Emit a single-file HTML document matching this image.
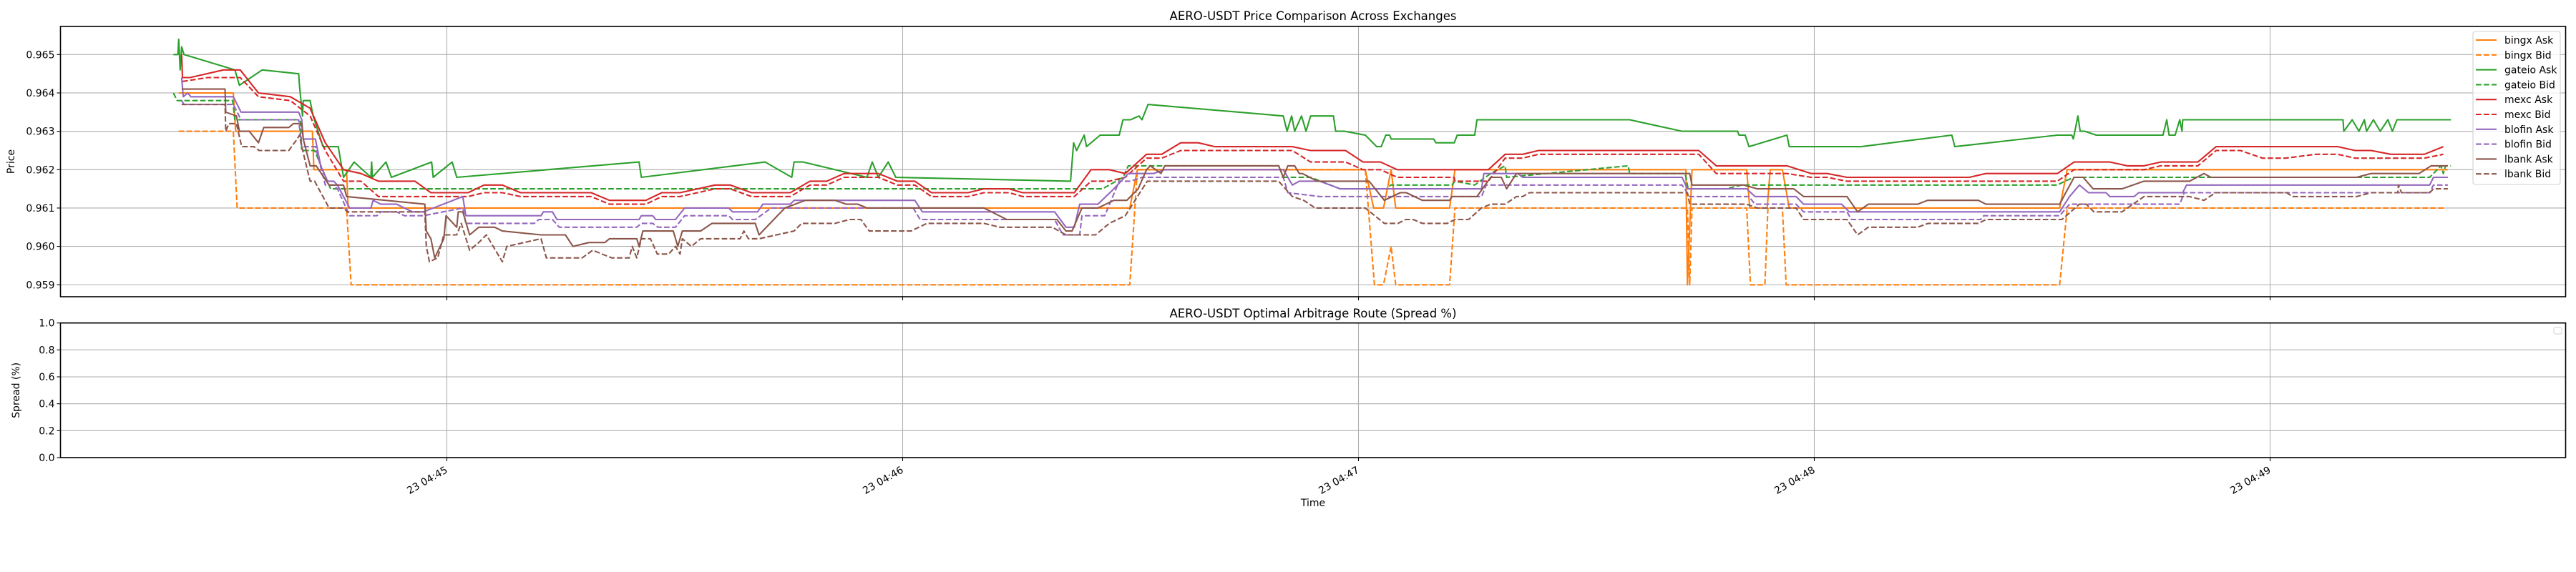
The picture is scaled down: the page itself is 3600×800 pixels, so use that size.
<!DOCTYPE html>
<html><head><meta charset="utf-8">
<style>
html,body{margin:0;padding:0;background:#fff;}
svg{display:block;font-family:"DejaVu Sans","Liberation Sans",sans-serif;}
</style></head>
<body>
<svg id="chart" width="3600" height="800" viewBox="0 0 3600 800" xmlns="http://www.w3.org/2000/svg">
<rect x="0" y="0" width="3600" height="800" fill="#fff"/>
<g id="grid"></g>
<g id="series"></g>
<g id="axes"></g>
</svg>
<script>
// ===== data (time = seconds after 04:44:00, price in USDT) =====
const tickTimes = [60,120,180,240,300];
const tickLabels = ["23 04:45","23 04:46","23 04:47","23 04:48","23 04:49"];
const priceTicks = [0.959,0.960,0.961,0.962,0.963,0.964,0.965];
const spreadTicks = [0.0,0.2,0.4,0.6,0.8,1.0];
const seriesNames = ["bingx Ask","bingx Bid","gateio Ask","gateio Bid","mexc Ask","mexc Bid","blofin Ask","blofin Bid","lbank Ask","lbank Bid"];

const bingxAsk = [[24.7,.964],[31.9,.964],[32.2,.963],[42.3,.963],[42.5,.962],[46.8,.962],[47,.961],[149.9,.961],[150.9,.962],[180.9,.962],[182,.961],[183.3,.961],[184.3,.962],[184.9,.961],[192,.961],[192.7,.962],[223.1,.962],[223.3,.959],[223.9,.962],[231.1,.962],[231.5,.961],[233.8,.961],[234.2,.962],[235.8,.962],[236.7,.961],[272.3,.961],[273.3,.962],[323.4,.962]];
const bingxBid = [[24.7,.963],[31.9,.963],[32.4,.961],[46.8,.961],[47.4,.959],[149.9,.959],[150.9,.962],[180.9,.962],[182.1,.959],[183.3,.959],[184.3,.960],[184.9,.959],[192,.959],[192.7,.961],[223.3,.961],[223.6,.959],[223.9,.961],[231.1,.961],[231.6,.959],[233.5,.959],[233.9,.961],[235.8,.961],[236.3,.959],[272.3,.959],[273.3,.961],[323.1,.961]];
const gateioAsk = [[24.0,.965],[24.6,.965],[24.7,.9654],[24.9,.9646],[25.1,.9652],[25.4,.965],[32.1,.9646],[32.7,.9642],[35.7,.9646],[40.5,.9645],[40.6,.9642],[40.8,.9638],[41.0,.9634],[41.1,.9638],[42.0,.9638],[42.4,.9634],[43.7,.9626],[45.7,.9626],[46.4,.9618],[47.8,.9622],[50.0,.9618],[50.1,.9622],[50.2,.9618],[52.0,.9622],[52.7,.9618],[58.0,.9622],[58.2,.9618],[60.7,.9622],[61.3,.9618],[85.3,.9622],[85.6,.9618],[101.9,.9622],[105.4,.9618],[105.7,.9622],[106.9,.9622],[115.3,.9618],[116.0,.9622],[116.8,.9618],[118.1,.9622],[119.1,.9618],[142.1,.9617],[142.5,.9627],[142.9,.9625],[143.9,.9629],[144.2,.9626],[146.0,.9629],[148.5,.9629],[149.0,.9633],[150.0,.9633],[151.1,.9634],[151.5,.9633],[152.3,.9637],[170.1,.9634],[170.6,.9630],[171.2,.9634],[171.6,.9630],[172.5,.9634],[173.1,.9630],[173.7,.9634],[176.7,.9634],[177.0,.9630],[178.2,.9630],[180.9,.9629],[182.4,.9626],[183.0,.9626],[183.6,.9629],[184.1,.9629],[184.3,.9628],[189.9,.9628],[190.2,.9627],[192.6,.9627],[193.0,.9629],[195.3,.9629],[195.6,.9633],[215.7,.9633],[222.6,.9630],[229.9,.9630],[230.1,.9629],[230.9,.9629],[231.4,.9626],[236.4,.9629],[236.7,.9626],[246.2,.9626],[258.1,.9629],[258.5,.9626],[272.0,.9629],[273.9,.9629],[274.1,.9628],[274.7,.9634],[275.0,.9630],[275.6,.9630],[277.1,.9629],[285.9,.9629],[286.4,.9633],[286.7,.9629],[287.5,.9629],[288.1,.9633],[288.4,.9630],[288.5,.9633],[309.6,.9633],[309.7,.9630],[310.8,.9633],[311.7,.9630],[312.4,.9633],[312.7,.9630],[313.6,.9633],[314.5,.9630],[315.5,.9633],[316.1,.9630],[316.7,.9633],[323.8,.9633]];
const gateioBid = [[24.0,.9640],[24.5,.9638],[31.8,.9638],[32.1,.9633],[40.7,.9633],[40.9,.9625],[42.6,.9625],[44.7,.9615],[146.3,.9615],[149.0,.9618],[149.7,.9621],[169.5,.9621],[170.1,.9618],[173.7,.9618],[177.6,.9615],[183.9,.9615],[184.2,.9616],[192.3,.9616],[192.7,.9617],[195.3,.9616],[197.4,.9619],[199.3,.9621],[199.5,.9618],[215.5,.9621],[215.7,.9619],[223.0,.9619],[223.4,.9615],[228.4,.9615],[230.4,.9616],[272.0,.9616],[273.0,.9617],[274.2,.9618],[321.0,.9618],[322.5,.9621],[322.8,.9619],[323.1,.9621],[323.8,.9621]];
const mexcAsk = [[25.1,.9650],[25.2,.9644],[26.2,.9644],[30.6,.9646],[32.8,.9646],[35.2,.9640],[39.4,.9639],[42.0,.9636],[44.0,.9627],[46.4,.9620],[48.7,.9619],[51.0,.9617],[55.8,.9617],[57.9,.9614],[62.8,.9614],[64.9,.9616],[67.3,.9616],[69.7,.9614],[79.0,.9614],[81.4,.9612],[86.2,.9612],[88.3,.9614],[90.7,.9614],[95.3,.9616],[97.3,.9616],[100.1,.9614],[105.2,.9614],[107.8,.9617],[110.0,.9617],[112.3,.9619],[116.8,.9619],[119.3,.9617],[121.6,.9617],[123.8,.9614],[128.6,.9614],[130.7,.9615],[134.0,.9615],[135.8,.9614],[142.6,.9614],[144.8,.9620],[147.2,.9620],[149.3,.9619],[152.1,.9624],[154.1,.9624],[156.6,.9627],[158.9,.9627],[161.1,.9626],[171.3,.9626],[173.7,.9625],[178.3,.9625],[180.6,.9622],[182.9,.9622],[185.1,.9620],[197.1,.9620],[199.3,.9624],[201.6,.9624],[203.7,.9625],[224.8,.9625],[227.1,.9621],[236.4,.9621],[239.6,.9619],[241.7,.9619],[244.3,.9618],[260.4,.9618],[262.6,.9619],[272.0,.9619],[274.2,.9622],[278.9,.9622],[281.2,.9621],[283.4,.9621],[285.6,.9622],[290.5,.9622],[292.9,.9626],[308.9,.9626],[311.2,.9625],[313.3,.9625],[315.9,.9624],[320.3,.9624],[322.8,.9626]];
const mexcBid = [[25.2,.9643],[28.5,.9644],[32.8,.9644],[35.2,.9639],[39.4,.9638],[42,.9634],[44,.9625],[46.4,.9617],[48.7,.9617],[51,.9613],[62.8,.9613],[64.9,.9614],[67.3,.9614],[69.7,.9613],[79,.9613],[81.4,.9611],[86.2,.9611],[88.3,.9613],[90.7,.9613],[95.3,.9615],[97.3,.9615],[100.1,.9613],[105.2,.9613],[107.8,.9616],[110,.9616],[112.3,.9618],[116.8,.9618],[119.3,.9616],[121.6,.9616],[123.8,.9613],[128.6,.9613],[130.7,.9614],[134,.9614],[135.8,.9613],[142.6,.9613],[144.8,.9617],[147.2,.9617],[149.3,.9618],[152.1,.9623],[154.1,.9623],[156.6,.9625],[171.3,.9625],[173.7,.9622],[178.3,.9622],[180.6,.9620],[182.9,.9620],[185.1,.9618],[192.6,.9618],[192.7,.9617],[197.1,.9617],[199.3,.9623],[201.6,.9623],[203.7,.9624],[224.8,.9624],[227.1,.9619],[236.4,.9619],[239.6,.9618],[241.7,.9618],[244.3,.9617],[272,.9617],[274.2,.9620],[283.4,.9620],[285.6,.9621],[290.5,.9621],[292.9,.9625],[296.1,.9625],[299,.9623],[302,.9623],[306,.9624],[308.9,.9624],[311.2,.9623],[320.3,.9623],[322.8,.9624]];
const blofinAsk = [[25.1,.9644],[25.3,.9639],[25.9,.9640],[26.3,.9639],[31.9,.9639],[32.9,.9635],[40.5,.9635],[40.9,.9633],[41.1,.9628],[42.7,.9628],[43.4,.9621],[44.3,.9617],[45.1,.9617],[45.6,.9616],[47.2,.9610],[50,.9610],[50.3,.9612],[51.3,.9611],[53.4,.9611],[54.4,.9610],[55.5,.9609],[56.9,.9609],[62.1,.9613],[62.5,.9608],[72.4,.9608],[72.7,.9609],[73.9,.9609],[74.5,.9607],[85.3,.9607],[85.6,.9608],[87.1,.9608],[87.5,.9607],[90.1,.9607],[91.3,.9610],[97.1,.9610],[97.6,.9609],[100.9,.9609],[101.6,.9611],[105.2,.9611],[105.7,.9612],[121.6,.9612],[122.6,.9609],[140,.9609],[141.5,.9605],[142.6,.9605],[143.3,.9611],[145.7,.9611],[147.8,.9615],[149.7,.9619],[153,.9619],[154.5,.9620],[170.1,.9620],[170.7,.9618],[171.3,.9616],[172.2,.9617],[174.9,.9617],[177.6,.9615],[196.2,.9615],[196.5,.9619],[201,.9619],[201.6,.9618],[222.6,.9618],[223.3,.9615],[231.1,.9615],[232.2,.9613],[237.6,.9613],[238.6,.9611],[243.6,.9611],[244.6,.9609],[272.3,.9609],[273.6,.9613],[274.9,.9616],[276.1,.9614],[278.4,.9614],[278.9,.9613],[282.1,.9613],[282.7,.9614],[288.5,.9614],[289,.9616],[321,.9616],[321.5,.9618],[323.4,.9618]];
const blofinBid = [[25.1,.9638],[25.4,.9637],[31.9,.9637],[32.9,.9633],[40.5,.9633],[40.9,.9626],[42.7,.9626],[44.0,.9616],[45.1,.9616],[45.6,.9615],[47.2,.9608],[50.8,.9608],[51.3,.9609],[53.4,.9609],[54.4,.9608],[56.9,.9608],[62.1,.9610],[62.5,.9606],[71.5,.9606],[72.1,.9607],[73.9,.9607],[74.8,.9605],[85,.9605],[85.6,.9606],[87.1,.9606],[87.8,.9605],[90.1,.9605],[91.3,.9608],[97.1,.9608],[97.6,.9607],[100.6,.9607],[102.7,.9610],[121.4,.9610],[122.3,.9607],[140,.9607],[141.1,.9603],[143.3,.9603],[143.6,.9608],[146.6,.9608],[148.5,.9617],[150,.9617],[151.5,.9618],[170.1,.9618],[170.7,.9614],[174.9,.9613],[196.2,.9613],[196.8,.9616],[222.6,.9616],[223.6,.9613],[231.4,.9613],[232.2,.9611],[237.6,.9611],[238.6,.9609],[244.3,.9609],[244.9,.9607],[261.9,.9607],[262.3,.9608],[272.3,.9608],[273.6,.9611],[288.1,.9611],[288.7,.9614],[321,.9614],[321.5,.9616],[323.4,.9616]];
const lbankAsk = [[25.1,.9641],[30.8,.9641],[30.9,.9635],[32.3,.9634],[32.7,.9630],[34,.9630],[35.2,.9627],[35.9,.9631],[39.2,.9631],[39.8,.9632],[40.9,.9632],[41.1,.9628],[42,.9621],[42.8,.9621],[44.5,.9616],[46.4,.9616],[46.8,.9613],[57.1,.9611],[57.3,.9604],[57.9,.9602],[58.4,.9597],[59.6,.9602],[59.9,.9608],[61.3,.9605],[61.5,.9609],[62.1,.9609],[63,.9603],[64.2,.9605],[66.3,.9605],[67.3,.9604],[72.4,.9603],[75.6,.9603],[76.6,.9600],[78.7,.9601],[80.8,.9601],[81.4,.9602],[85,.9602],[85.3,.9600],[85.8,.9604],[89.8,.9604],[90.4,.9600],[91,.9604],[93.4,.9604],[94.9,.9606],[100.6,.9606],[101.1,.9603],[104.5,.9610],[107.2,.9612],[111.1,.9612],[112.6,.9611],[114.1,.9611],[115.3,.9610],[130.7,.9610],[133.7,.9607],[140.3,.9607],[141.5,.9604],[142.3,.9604],[143.6,.9610],[145.7,.9610],[147.8,.9612],[149.5,.9612],[151.0,.9615],[152.1,.9620],[152.6,.9621],[154.0,.9619],[154.5,.9621],[169.5,.9621],[170.1,.9618],[170.7,.9621],[171.6,.9621],[172.2,.9619],[172.6,.9619],[174.6,.9617],[181.4,.9617],[183.4,.9612],[185.5,.9614],[186.3,.9614],[188.4,.9612],[192,.9612],[192.3,.9613],[195.6,.9613],[197.4,.9618],[198.8,.9618],[199.5,.9615],[200.8,.9619],[223.6,.9619],[223.9,.9616],[230.7,.9616],[232.5,.9615],[237.3,.9615],[238.6,.9613],[244.3,.9613],[245.7,.9609],[247.1,.9611],[253.6,.9611],[254.9,.9612],[261.6,.9612],[262.6,.9611],[272.3,.9611],[273.1,.9614],[274.2,.9618],[275.4,.9618],[276.7,.9615],[280.5,.9615],[283.4,.9617],[289.4,.9617],[291.3,.9619],[292.2,.9618],[311.4,.9618],[313.3,.9619],[319.6,.9619],[321.2,.9621],[323.4,.9621]];
const lbankBid = [[25.1,.9637],[30.8,.9637],[30.9,.9630],[31.3,.9632],[32.3,.9632],[33,.9626],[34.6,.9626],[35.3,.9625],[39.2,.9625],[40.3,.9628],[40.6,.9629],[40.9,.9626],[42,.9617],[42.6,.9617],[44.5,.9610],[46.4,.9610],[46.9,.9609],[57.1,.9609],[57.3,.9600],[57.7,.9596],[58.8,.9597],[59.6,.9603],[61.3,.9603],[61.9,.9606],[63,.9599],[64.2,.9601],[65.2,.9603],[67.3,.9596],[67.9,.9600],[72.4,.9602],[73.1,.9597],[77.8,.9597],[79.2,.9599],[81.7,.9597],[84,.9597],[84.4,.9600],[85,.9597],[85.6,.9602],[86.8,.9602],[87.7,.9598],[89.2,.9598],[90.1,.9600],[90.7,.9598],[91.0,.9602],[92.2,.9600],[93.4,.9602],[98.6,.9602],[99.1,.9604],[99.7,.9602],[101.1,.9602],[105.7,.9604],[106.7,.9606],[111.1,.9606],[113.0,.9607],[114.5,.9607],[115.6,.9604],[121.1,.9604],[123.2,.9606],[130.7,.9606],[132.8,.9605],[139.7,.9605],[141.5,.9603],[145.4,.9603],[147.2,.9606],[149.3,.9608],[152.2,.9617],[169.5,.9617],[171.3,.9613],[172.8,.9612],[174.3,.9610],[180.9,.9610],[183.4,.9606],[185.2,.9606],[186.2,.9607],[187.2,.9607],[188.4,.9606],[191.7,.9606],[192.7,.9607],[194.5,.9607],[196.2,.9610],[197.4,.9611],[199.3,.9611],[200.8,.9613],[201.6,.9613],[202.5,.9614],[223.3,.9614],[223.6,.9611],[231.1,.9611],[232.5,.9610],[237.6,.9610],[238.6,.9607],[244.3,.9607],[245.7,.9603],[247.1,.9605],[253.6,.9605],[255,.9606],[261.6,.9606],[262.6,.9607],[272.6,.9607],[274.9,.9611],[275.8,.9611],[276.8,.9609],[280.5,.9609],[283.4,.9613],[289.4,.9613],[291.3,.9612],[292.8,.9614],[302.2,.9614],[302.9,.9613],[311.4,.9613],[313.3,.9614],[316.8,.9614],[316.9,.9616],[317.3,.9614],[321,.9614],[321.5,.9615],[323.4,.9615]];

const allSeries = [bingxAsk,bingxBid,gateioAsk,gateioBid,mexcAsk,mexcBid,blofinAsk,blofinBid,lbankAsk,lbankBid];
const seriesColors = ["#ff7f0e","#ff7f0e","#2ca02c","#2ca02c","#d62728","#d62728","#9467bd","#9467bd","#8c564b","#8c564b"];

// ===== layout =====
const NS = "http://www.w3.org/2000/svg";
const L = 84.5, R = 3585.5;
const T1 = 37, B1 = 415, T2 = 451.7, B2 = 640;
const X0 = 9.14, X1 = 338.9;
const P0 = 0.958688, P1 = 0.965733;
const xS = t => L + (t - X0) / (X1 - X0) * (R - L);
const yP = v => B1 - (v - P0) / (P1 - P0) * (B1 - T1);
const yS = v => B2 - v * (B2 - T2);

function mk(tag, attrs, parent, text){
  const e = document.createElementNS(NS, tag);
  for (const k in attrs) e.setAttribute(k, attrs[k]);
  if (text !== undefined) e.textContent = text;
  parent.appendChild(e);
  return e;
}
const svg = document.getElementById('chart');
const gGrid = document.getElementById('grid');
const gSer = document.getElementById('series');
const gAx = document.getElementById('axes');
const GRID = "#b0b0b0";

// grids
tickTimes.forEach((t,i) => {
  const x = xS(t);
  let g = mk('line',{x1:x,x2:x,y1:T1,y2:B1,stroke:GRID,'stroke-width':1.1},gGrid);
  
  
  g = mk('line',{x1:x,x2:x,y1:T2,y2:B2,stroke:GRID,'stroke-width':1.1},gGrid);
  
  
});
priceTicks.forEach(v => {
  const y = yP(v);
  const g = mk('line',{x1:L,x2:R,y1:y,y2:y,stroke:GRID,'stroke-width':1.1},gGrid);
  
  
});
spreadTicks.forEach(v => {
  const y = yS(v);
  const g = mk('line',{x1:L,x2:R,y1:y,y2:y,stroke:GRID,'stroke-width':1.1},gGrid);
  
  
});

// series
allSeries.forEach((data,i) => {
  const pts = data.map(p => xS(p[0]).toFixed(1)+','+yP(p[1]).toFixed(1)).join(' ');
  const attrs = {points:pts,fill:'none',stroke:seriesColors[i],'stroke-width':2.1,'stroke-linejoin':'round'};
  if (i % 2 === 1) attrs['stroke-dasharray'] = '7.7,3.3';
  const pl = mk('polyline',attrs,gSer);
  
  
});

// axes frames
const f1 = mk('rect',{x:L,y:T1,width:R-L,height:B1-T1,fill:'none',stroke:'#000','stroke-width':1.6},gAx);


const f2 = mk('rect',{x:L,y:T2,width:R-L,height:B2-T2,fill:'none',stroke:'#000','stroke-width':1.6},gAx);



// y ticks
priceTicks.forEach(v => {
  const y = yP(v);
  mk('line',{x1:L-5,x2:L,y1:y,y2:y,stroke:'#000','stroke-width':1.1},gAx);
  const t = mk('text',{x:L-8,y:y+5,'text-anchor':'end','font-size':14},gAx,v.toFixed(3));
  
  
});
spreadTicks.forEach(v => {
  const y = yS(v);
  mk('line',{x1:L-5,x2:L,y1:y,y2:y,stroke:'#000','stroke-width':1.1},gAx);
  const t = mk('text',{x:L-8,y:y+5,'text-anchor':'end','font-size':14},gAx,v.toFixed(1));
  
  
});
// x ticks
tickTimes.forEach((tt,i) => {
  const x = xS(tt);
  mk('line',{x1:x,x2:x,y1:B1,y2:B1+5,stroke:'#000','stroke-width':1.1},gAx);
  mk('line',{x1:x,x2:x,y1:B2,y2:B2+5,stroke:'#000','stroke-width':1.1},gAx);
  const t = mk('text',{x:x+2,y:B2+20,'text-anchor':'end','font-size':14,transform:`rotate(-30 ${x+2} ${B2+20})`},gAx,tickLabels[i]);
  
  
});

// titles
let e;
e = mk('text',{x:(L+R)/2,y:28,'text-anchor':'middle','font-size':16.5},gAx,'AERO-USDT Price Comparison Across Exchanges');


e = mk('text',{x:(L+R)/2,y:444,'text-anchor':'middle','font-size':16.5},gAx,'AERO-USDT Optimal Arbitrage Route (Spread %)');


e = mk('text',{x:20,y:(T1+B1)/2,'text-anchor':'middle','font-size':14,transform:`rotate(-90 20 ${(T1+B1)/2})`},gAx,'Price');


e = mk('text',{x:27,y:(T2+B2)/2,'text-anchor':'middle','font-size':14,transform:`rotate(-90 27 ${(T2+B2)/2})`},gAx,'Spread (%)');


e = mk('text',{x:(L+R)/2,y:708,'text-anchor':'middle','font-size':14},gAx,'Time');



// legend
const lg = mk('g',{},gAx);


mk('rect',{x:3456,y:44,width:122,height:214,rx:3,fill:'#fff','fill-opacity':0.8,stroke:'#d0d0d0','stroke-width':1.1},lg);
seriesNames.forEach((n,i) => {
  const y = 56 + i*20.8;
  const ent = mk('g',{},lg);
  
  
  const la = {x1:3460,x2:3489,y1:y,y2:y,stroke:seriesColors[i],'stroke-width':2.1};
  if (i % 2 === 1) la['stroke-dasharray'] = '7.7,3.3';
  mk('line',la,ent);
  mk('text',{x:3500,y:y+5,'font-size':14},ent,n);
});
// empty legend in spread panel
e = mk('rect',{x:3569,y:458,width:11,height:9,rx:2,fill:'#fff',stroke:'#d0d0d0','stroke-width':1},gAx);


</script>
</body></html>
